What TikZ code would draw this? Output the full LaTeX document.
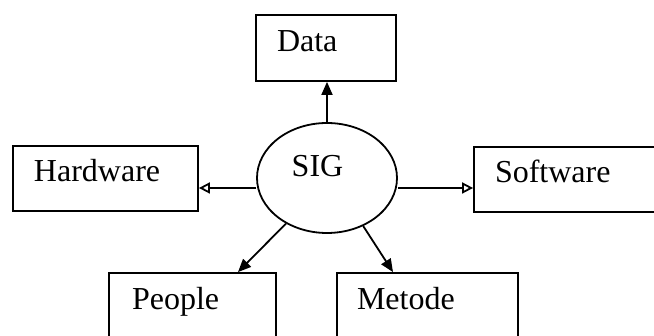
\documentclass[tikz,border=0pt]{standalone}
\usepackage{fontspec}
\setmainfont{Liberation Serif}
\usetikzlibrary{arrows.meta,shapes.geometric,calc}
\begin{document}
\begin{tikzpicture}[x=1pt,y=1pt,
  txt/.style={font=\fontsize{32}{36}\selectfont},
  box/.style={draw, line width=1.8pt, rectangle, inner xsep=0pt, inner ysep=0pt,
    align=left, txt, text height=0.86em, text depth=0.2em},
  oval/.style={draw, line width=1.8pt, ellipse, inner sep=0pt,
    minimum width=140pt, minimum height=110pt},
  conn/.style={line width=1.8pt},
  filltip/.style={conn, -{Triangle[length=13pt,width=11pt]}},
  opentip/.style={conn, -{Triangle[open,length=11pt,width=11pt,line width=1.8pt]}}]
\useasboundingbox (0,0) rectangle (654,336);
\clip (0,0) rectangle (654,336);
\node[box, minimum width=140pt, minimum height=66pt, text width=98pt] (data) at (326,288) {Data};
\node[box, minimum width=185pt, minimum height=65pt, text width=143pt] (hw) at (105.5,157.5) {Hardware};
\node[box, minimum width=216pt, minimum height=65pt, text width=174pt] (sw) at (582,156.5) {Software};
\node[box, minimum width=167pt, minimum height=66pt, text width=121pt] (people) at (192.5,30) {People};
\node[box, minimum width=181pt, minimum height=66pt, text width=141pt] (metode) at (427.5,30) {Metode};
\node[oval] (sig) at (327,158) {};
\node[txt, anchor=base] (sigtext) at (317.5,159) {SIG};
\draw[filltip] (sig.north) -- (sig.north |- data.south);
\draw[opentip] ([yshift=-10pt]sig.west) -- ([yshift=-10pt]sig.west -| hw.east);
\draw[opentip] ([yshift=-10pt]sig.east) -- ([yshift=-10pt]sig.east -| sw.west);
\draw[filltip] (sig.228) -- ([xshift=45.5pt]people.north);
\draw[filltip] (sig.307) -- ([xshift=-34.5pt]metode.north);
\end{tikzpicture}
\end{document}
